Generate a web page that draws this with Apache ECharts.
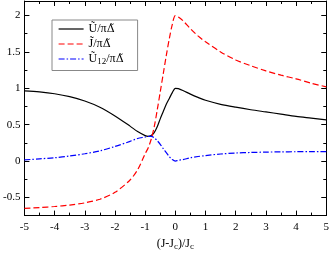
<!DOCTYPE html>
<html><head><meta charset="utf-8">
<script src="https://cdn.jsdelivr.net/npm/echarts@6/dist/echarts.min.js"></script>
<style>html,body{margin:0;padding:0;background:#fff}#c{width:332px;height:256px}</style>
</head><body><div id="c"></div>
<script>
var xs = [-5,-4.5,-4,-3.5,-3,-2.5,-2,-1.5,-1.25,-1,-0.9,-0.8,-0.7,-0.6,-0.5,-0.4,-0.3,-0.2,-0.1,0,0.1,0.25,0.5,0.75,1,1.5,2,2.5,3,3.5,4,4.5,5];
var uVals = [0.965,0.95,0.925,0.885,0.825,0.74,0.62,0.48,0.405,0.35,0.34,0.35,0.39,0.47,0.58,0.68,0.78,0.86,0.94,1.0,0.995,0.97,0.92,0.875,0.835,0.78,0.74,0.705,0.675,0.645,0.615,0.59,0.565];
var jVals = [-0.65,-0.64,-0.625,-0.605,-0.575,-0.525,-0.43,-0.26,-0.12,0.1,0.18,0.3,0.47,0.7,0.95,1.2,1.45,1.68,1.88,2.0,1.98,1.93,1.82,1.72,1.64,1.5,1.39,1.31,1.24,1.18,1.13,1.07,1.02];
var u12Vals = [0.015,0.03,0.045,0.07,0.1,0.14,0.2,0.27,0.31,0.33,0.34,0.34,0.32,0.28,0.23,0.17,0.115,0.06,0.02,0.0,0.01,0.02,0.045,0.062,0.075,0.097,0.11,0.118,0.123,0.126,0.128,0.13,0.13];
var yMajor = [-0.5,0,0.5,1,1.5,2];
var yMinor = [-0.75,-0.25,0.25,0.75,1.25,1.75];
var names = ['Ũ/πΔ̃','J̃/πΔ̃','Ũ12/πΔ̃'];

function pairs(v){return xs.map(function(x,i){return [x,v[i]];});}
var font = 'Liberation Serif';
var ch = echarts.init(document.getElementById('c'));
var grid = {left:21,right:3,top:1,bottom:30};
function yax(opts){
  return Object.assign({type:'value',min:-0.75,max:2.2,gridIndex:0,splitLine:{show:false}},opts);
}
var legRich = {
  s:{fontFamily:font,fontSize:9,verticalAlign:'bottom',padding:[6,0,0,0]},
  d:{fontFamily:'DejaVu Serif',fontSize:11}
};
ch.setOption({
  animation:false,
  grid:grid,
  xAxis:[
    {type:'value',min:-5,max:5,interval:1,position:'bottom',
     axisLine:{onZero:false,lineStyle:{color:'#000',width:1}},
     axisTick:{inside:true,length:5,lineStyle:{color:'#000'}},
     minorTick:{show:true,splitNumber:2,length:3,lineStyle:{color:'#000'}},
     splitLine:{show:false},
     axisLabel:{color:'#000',fontFamily:font,fontSize:11,margin:6},
     name:'(J-J{s|c})/J{s|c}',nameLocation:'middle',nameGap:16,
     nameTextStyle:{color:'#000',fontFamily:font,fontSize:12,rich:{s:{fontFamily:font,fontSize:9,verticalAlign:'bottom',padding:[6,0,0,0]}}}},
    {type:'value',min:-5,max:5,interval:1,position:'top',
     axisLine:{onZero:false,lineStyle:{color:'#000',width:1}},
     axisTick:{inside:true,length:5,lineStyle:{color:'#000'}},
     minorTick:{show:true,splitNumber:2,length:3,lineStyle:{color:'#000'}},
     splitLine:{show:false},axisLabel:{show:false}}
  ],
  yAxis:[
    yax({position:'left',
     axisLine:{onZero:false,lineStyle:{color:'#000',width:1}},
     axisTick:{inside:true,length:5,customValues:yMajor,lineStyle:{color:'#000'}},
     axisLabel:{customValues:yMajor,color:'#000',fontFamily:font,fontSize:11,margin:4}}),
    yax({position:'right',
     axisLine:{onZero:false,lineStyle:{color:'#000',width:1}},
     axisTick:{inside:true,length:5,customValues:yMajor,lineStyle:{color:'#000'}},
     axisLabel:{show:false}}),
    yax({position:'left',axisLine:{show:false,onZero:false},
     axisTick:{inside:true,length:3,customValues:yMinor,lineStyle:{color:'#000'}},
     axisLabel:{show:false}}),
    yax({position:'right',axisLine:{show:false,onZero:false},
     axisTick:{inside:true,length:3,customValues:yMinor,lineStyle:{color:'#000'}},
     axisLabel:{show:false}})
  ],
  legend:{
    left:52,top:20,orient:'vertical',itemWidth:25,itemHeight:13,itemGap:3,
    padding:[3,14,4,6],borderColor:'#888',borderWidth:1,
    itemStyle:{opacity:0},
    lineStyle:{width:1.2},
    data:names,
    formatter:function(n){
      if(n===names[0]) return 'Ũ/π{d|Δ̃}';
      if(n===names[1]) return 'J̃/π{d|Δ̃}';
      return 'Ũ{s|12}/π{d|Δ̃}';
    },
    textStyle:{color:'#000',fontFamily:font,fontSize:12,rich:legRich}
  },
  series:[
    {name:names[0],type:'line',data:pairs(uVals),smooth:0.3,showSymbol:false,symbol:'none',
     lineStyle:{color:'#000',width:1.2},itemStyle:{color:'#000'}},
    {name:names[1],type:'line',data:pairs(jVals),smooth:0.3,showSymbol:false,symbol:'none',
     lineStyle:{color:'#ff0000',width:1.2,type:[6,3]},itemStyle:{color:'#ff0000'}},
    {name:names[2],type:'line',data:pairs(u12Vals),smooth:0.3,showSymbol:false,symbol:'none',
     lineStyle:{color:'#0000ff',width:1.2,type:[6,2,1.5,2]},itemStyle:{color:'#0000ff'}}
  ]
});
</script></body></html>
